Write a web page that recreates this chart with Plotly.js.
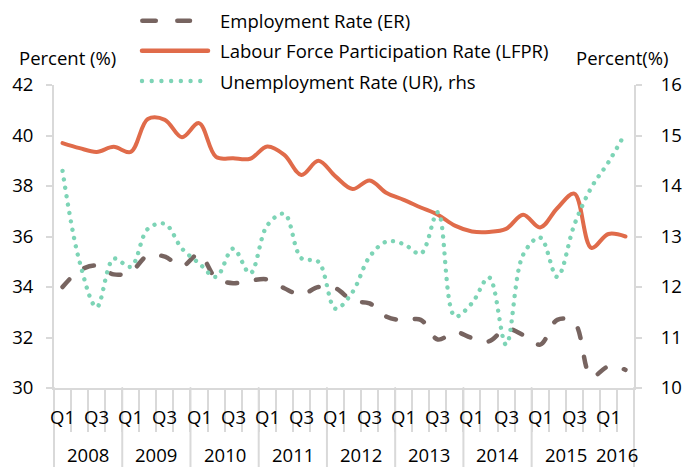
<!DOCTYPE html>
<html><head><meta charset="utf-8">
<script src="https://cdn.plot.ly/plotly-3.0.1.min.js"></script>
<style>
html,body{margin:0;padding:0;background:#fff;}
#chart{width:688px;height:467px;}
.scatterlayer .js-line, .shapelayer path {stroke-linecap: round;}
</style>
</head><body><div id="chart"></div>
<script>
// ---------- data ----------
const years = ['2008','2009','2010','2011','2012','2013','2014','2015','2016'];
const quartersPerYear = [4,4,4,4,4,4,4,4,2];
const quarterNames = ['Q1','Q2','Q3','Q4'];
const shownQuarters = ['Q1','Q3'];
const seriesNames = ['Employment Rate (ER)','Labour Force Participation Rate (LFPR)','Unemployment Rate (UR), rhs'];
const erValues = [34.0,34.65,34.85,34.5,34.6,35.25,35.2,34.82,35.3,34.35,34.15,34.25,34.3,33.95,33.7,34.0,33.95,33.45,33.35,32.82,32.68,32.7,31.92,32.22,31.98,31.85,32.35,32.1,31.72,32.7,32.6,30.45,30.85,30.72];
const lfprValues = [39.7,39.5,39.35,39.55,39.35,40.65,40.62,39.93,40.49,39.15,39.1,39.08,39.56,39.23,38.44,39.0,38.38,37.88,38.22,37.72,37.45,37.15,36.86,36.43,36.2,36.18,36.3,36.86,36.36,37.12,37.7,35.55,36.1,36.0];
const urValues = [14.3,12.5,11.6,12.56,12.4,13.15,13.25,12.76,12.47,12.2,12.76,12.27,13.22,13.45,12.57,12.5,11.57,11.9,12.6,12.9,12.85,12.66,13.48,11.42,11.68,12.19,10.86,12.64,12.98,12.2,13.23,13.97,14.47,15.05];
const leftTicks = [30,32,34,36,38,40,42];
const rightTicks = [10,11,12,13,14,15,16];
const leftAxisTitle = 'Percent (%)';
const rightAxisTitle = 'Percent(%)';

// ---------- build categories ----------
const quarterLabels = [];
const yearStart = [];
years.forEach((y, k) => {
  yearStart.push(quarterLabels.length);
  for (let q = 0; q < quartersPerYear[k]; q++) quarterLabels.push(quarterNames[q]);
});
const n = quarterLabels.length;
const xIdx = quarterLabels.map((_, i) => i);

// ---------- geometry / style ----------
const W = 688, H = 467, ML = 54, MR = 54, MT = 85, MB = 79;
const PW = W - ML - MR, PH = H - MT - MB;
const px = x => (x - ML) / PW;
const py = y => (H - MB - y) / PH;
const FONT = 'Open Sans, Liberation Sans, sans-serif';
const FS = 18.5;
const GRAY = '#D9D9D9';
const C_ER = '#776460', C_LF = '#E06B4A', C_UR = '#7DD4B6';
const DASH_ER = '10px,19px', DOT_UR = '0.01px,8.5px';

const traces = [
  {x: xIdx, y: erValues, name: seriesNames[0], type: 'scatter', mode: 'lines',
   line: {color: C_ER, width: 4.5, dash: DASH_ER, shape: 'spline', smoothing: 1}, yaxis: 'y'},
  {x: xIdx, y: lfprValues, name: seriesNames[1], type: 'scatter', mode: 'lines',
   line: {color: C_LF, width: 4, shape: 'spline', smoothing: 1}, yaxis: 'y'},
  {x: xIdx, y: urValues, name: seriesNames[2], type: 'scatter', mode: 'lines',
   line: {color: C_UR, width: 4.4, dash: DOT_UR, shape: 'spline', smoothing: 1}, yaxis: 'y2'}
];

const boundaries = [];
for (let i = 0; i <= n; i++) boundaries.push(i - 0.5);

const shapes = [];
// long year separator lines
years.forEach((y, k) => {
  if (quartersPerYear[k] === 4) {
    const xp = yearStart[k] / n;
    shapes.push({type: 'line', xref: 'paper', yref: 'paper', x0: xp, x1: xp, y0: 0, y1: py(H),
      line: {color: GRAY, width: 2}});
  }
});
shapes.push({type: 'line', xref: 'paper', yref: 'paper', x0: 1, x1: 1, y0: 0, y1: py(H),
  line: {color: GRAY, width: 2}});

const annotations = [];
// quarter labels
quarterLabels.forEach((q, i) => {
  if (shownQuarters.includes(q)) {
    annotations.push({x: i, xref: 'x', y: py(416), yref: 'paper', text: q, showarrow: false,
      xanchor: 'center', yanchor: 'middle', font: {family: FONT, size: FS, color: '#000'}});
  }
});
// year labels
years.forEach((y, k) => {
  const c = yearStart[k] + (quartersPerYear[k] - 1) / 2;
  annotations.push({x: c, xref: 'x', y: py(454), yref: 'paper', text: y, showarrow: false,
    xanchor: 'center', yanchor: 'middle', borderpad: 0, font: {family: FONT, size: FS, color: '#000'}});
});
// axis titles
annotations.push({x: px(17), xref: 'paper', y: py(58), yref: 'paper', text: leftAxisTitle, showarrow: false,
  xanchor: 'left', yanchor: 'middle', font: {family: FONT, size: FS, color: '#000'}});
annotations.push({x: px(670), xref: 'paper', y: py(58), yref: 'paper', text: rightAxisTitle, showarrow: false,
  xanchor: 'right', yanchor: 'middle', font: {family: FONT, size: FS, color: '#000'}});

// manual legend
const legendRows = [20.7, 50.7, 81];
const legendStyles = [
  {color: C_ER, width: 4.5, dash: '13.5px,21.5px', x0: 142.3, x1: 190},
  {color: C_LF, width: 4.5, dash: 'solid', x0: 142, x1: 208},
  {color: C_UR, width: 4.4, dash: '0.01px,9.7px', x0: 142, x1: 201}
];
seriesNames.forEach((name, k) => {
  const s = legendStyles[k];
  shapes.push({type: 'line', xref: 'paper', yref: 'paper', x0: px(s.x0), x1: px(s.x1),
    y0: py(legendRows[k]), y1: py(legendRows[k]), line: {color: s.color, width: s.width, dash: s.dash}});
  annotations.push({x: px(218), xref: 'paper', y: py(legendRows[k]), yref: 'paper', text: name,
    showarrow: false, xanchor: 'left', yanchor: 'middle', font: {family: FONT, size: FS, color: '#000'}});
});

const axisCommon = {
  showgrid: false, zeroline: false, showline: true, linecolor: GRAY, linewidth: 2,
  ticks: 'outside', tickcolor: GRAY, tickwidth: 2, fixedrange: true
};

const layout = {
  width: W, height: H, margin: {l: ML, r: MR, t: MT, b: MB},
  paper_bgcolor: '#fff', plot_bgcolor: '#fff', showlegend: false,
  font: {family: FONT, size: FS, color: '#000'},
  xaxis: Object.assign({}, axisCommon, {range: [-0.5, n - 0.5], tickmode: 'array', tickvals: boundaries,
    ticklen: 42, showticklabels: false}),
  yaxis: Object.assign({}, axisCommon, {range: [30, 42], tickmode: 'array', tickvals: leftTicks,
    ticklen: 6, tickfont: {family: FONT, size: FS, color: '#000'}, ticklabelstandoff: 9}),
  yaxis2: Object.assign({}, axisCommon, {range: [10, 16], tickmode: 'array', tickvals: rightTicks,
    ticklen: 6, overlaying: 'y', side: 'right', tickfont: {family: FONT, size: FS, color: '#000'}, ticklabelstandoff: 15}),
  shapes: shapes, annotations: annotations
};

Plotly.newPlot('chart', traces, layout, {displayModeBar: false, staticPlot: true});
</script>
</body></html>
